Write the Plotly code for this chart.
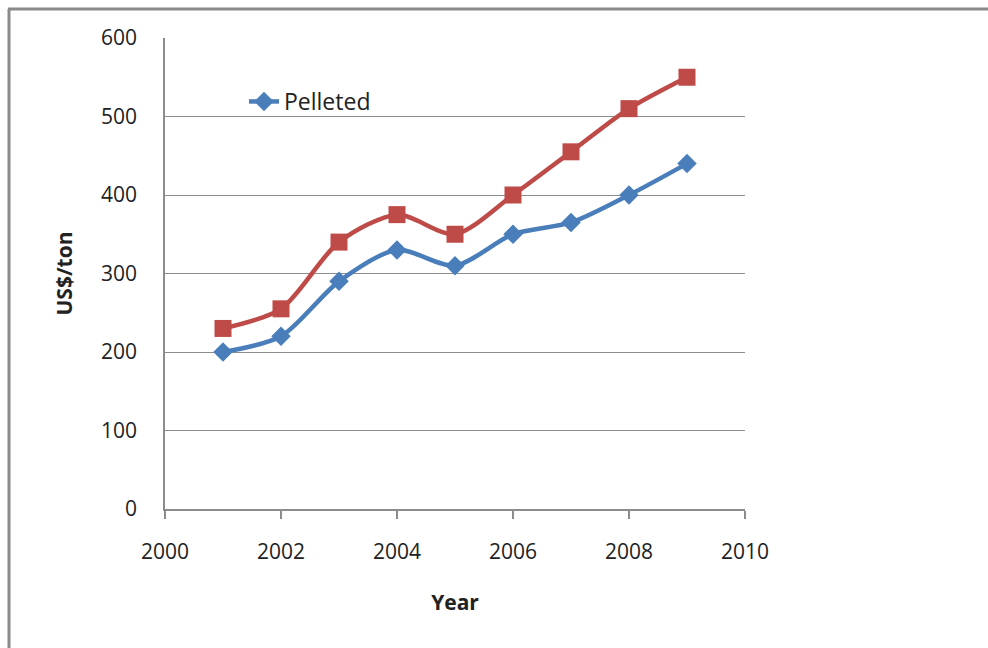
import plotly.graph_objects as go

# Annual price series, US$ per ton
years = [2001, 2002, 2003, 2004, 2005, 2006, 2007, 2008, 2009]
pelleted = [200, 220, 290, 330, 310, 350, 365, 400, 440]
other = [230, 255, 340, 375, 350, 400, 455, 510, 550]

x_ticks = [2000, 2002, 2004, 2006, 2008, 2010]
y_ticks = [0, 100, 200, 300, 400, 500, 600]

BLUE = "#4A7EBB"
RED = "#BE4B48"
GRID = "#8C8C8C"
FONT = "Open Sans, Liberation Sans, sans-serif"

fig = go.Figure()

fig.add_trace(go.Scatter(
    x=years, y=pelleted, name="Pelleted", mode="lines+markers",
    line=dict(color=BLUE, width=4.5, shape="spline", smoothing=0.8),
    marker=dict(symbol="diamond", size=15, color=BLUE),
))
fig.add_trace(go.Scatter(
    x=years, y=other, name="Other", mode="lines+markers", showlegend=False,
    line=dict(color=RED, width=4.5, shape="spline", smoothing=0.8),
    marker=dict(symbol="square", size=17, color=RED),
))

W, H = 988, 648
L, R, T, B = 165, 243, 38, 139
pw, ph = W - L - R, H - T - B

def px_x(p):
    return (p - L) / pw

def px_y(p):
    return 1 - (p - T) / ph

# Outer frame: left and top edges
fig.add_shape(type="line", xref="paper", yref="paper",
              x0=px_x(9), x1=px_x(9), y0=px_y(660), y1=px_y(9),
              line=dict(color="#8A8A8A", width=3))
fig.add_shape(type="line", xref="paper", yref="paper",
              x0=px_x(8), x1=px_x(1000), y0=px_y(9), y1=px_y(9),
              line=dict(color="#8A8A8A", width=3))

fig.update_layout(
    width=W, height=H,
    margin=dict(l=L, r=R, t=T, b=B, pad=0),
    paper_bgcolor="white", plot_bgcolor="white",
    font=dict(family=FONT, size=21, color="#222222"),
    showlegend=True,
    legend=dict(x=px_x(244), y=px_y(80), xanchor="left", yanchor="top",
                bgcolor="rgba(0,0,0,0)", font=dict(size=23, family=FONT)),
    xaxis=dict(
        range=[2000, 2010], tickvals=x_ticks, ticktext=[str(v) for v in x_ticks],
        showgrid=False, zeroline=False,
        showline=True, linecolor=GRID, linewidth=1.5,
        ticks="outside", ticklen=8, tickcolor=GRID, tickwidth=1.5,
        ticklabelstandoff=15,
        title=dict(text="<b>Year</b>", font=dict(size=21), standoff=31),
    ),
    yaxis=dict(
        range=[0, 600], tickvals=y_ticks,
        showgrid=True, gridcolor=GRID, gridwidth=1.2,
        zeroline=False,
        showline=True, linecolor=GRID, linewidth=1.5,
        ticks="", ticklabelstandoff=22,
        title=dict(text="<b>US$/ton</b>", font=dict(size=21), standoff=23),
    ),
)

fig.write_html("out.html")
